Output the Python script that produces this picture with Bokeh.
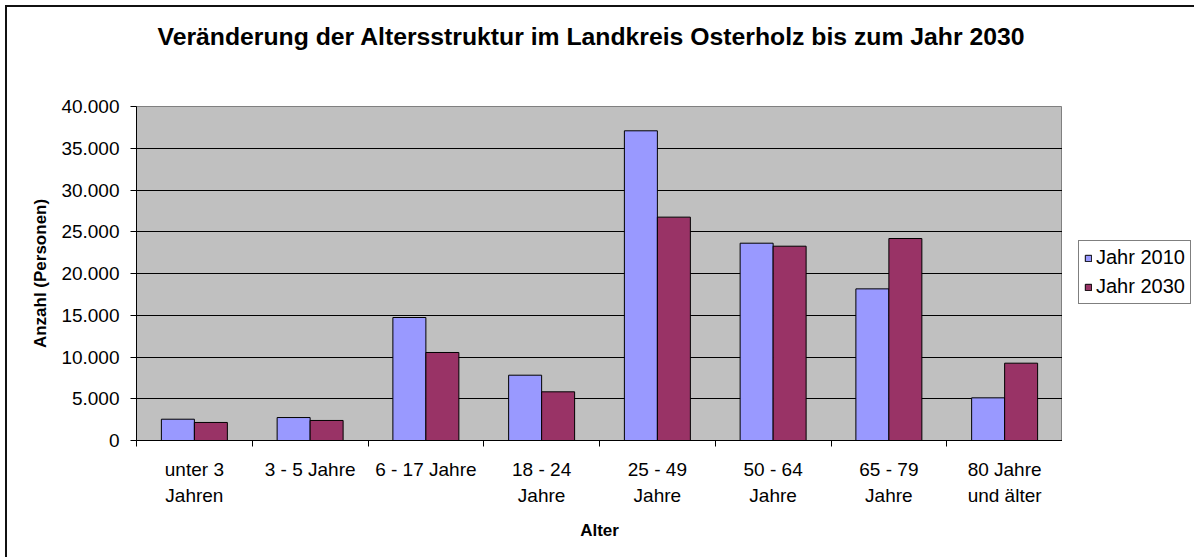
from bokeh.plotting import figure
from bokeh.layouts import row
from bokeh.models import ColumnDataSource, FixedTicker, Range1d, Title
from bokeh.transform import dodge
from bokeh.embed import file_html
from bokeh.resources import INLINE

# ---- data ----
categories = ["unter 3\nJahren", "3 - 5 Jahre", "6 - 17 Jahre", "18 - 24\nJahre",
              "25 - 49\nJahre", "50 - 64\nJahre", "65 - 79\nJahre", "80 Jahre\nund älter"]
jahr_2010 = [2550, 2750, 14730, 7820, 37090, 23630, 18160, 5110]
jahr_2030 = [2160, 2400, 10540, 5830, 26750, 23270, 24190, 9260]
series_names = ["Jahr 2010", "Jahr 2030"]
series_colors = ["#9999FF", "#993366"]
y_ticks = [0, 5000, 10000, 15000, 20000, 25000, 30000, 35000, 40000]
y_tick_labels = ["0", "5.000", "10.000", "15.000", "20.000", "25.000", "30.000", "35.000", "40.000"]
title_text = "Veränderung der Altersstruktur im Landkreis Osterholz bis zum Jahr 2030"
x_title = "Alter"
y_title = "Anzahl (Personen)"

FONT = "Liberation Sans"
W, H = 1194, 557
ML, MT, FW, FH = 136, 106, 926, 334
WL = W - ML - FW  # width of legend strip

pos = list(range(1, len(categories) + 1))
src = ColumnDataSource(dict(x=pos, a=jahr_2010, b=jahr_2030))

p = figure(width=ML + FW, height=H, output_backend="svg", toolbar_location=None,
           x_range=Range1d(0.5, len(categories) + 0.5), y_range=Range1d(0, 40000),
           min_border_left=ML, min_border_top=MT, min_border_right=0,
           min_border_bottom=H - MT - FH)
p.background_fill_color = "#C0C0C0"
p.border_fill_color = None
p.outline_line_color = "#808080"
p.outline_line_width = 1

bw = 0.285
p.vbar(x=dodge("x", -bw / 2, range=p.x_range), top="a", width=bw, source=src,
       fill_color=series_colors[0], line_color="black", line_width=1)
p.vbar(x=dodge("x", bw / 2, range=p.x_range), top="b", width=bw, source=src,
       fill_color=series_colors[1], line_color="black", line_width=1)

# grid
p.xgrid.visible = False
p.ygrid.ticker = FixedTicker(ticks=y_ticks)
p.ygrid.grid_line_color = "black"
p.ygrid.grid_line_width = 1
p.ygrid.grid_line_alpha = 1

# y axis
ya = p.yaxis[0]
ya.ticker = FixedTicker(ticks=y_ticks)
ya.major_label_overrides = {t: l for t, l in zip(y_ticks, y_tick_labels)}
ya.major_tick_out = 6
ya.major_tick_in = 0
ya.minor_tick_out = 0
ya.minor_tick_in = 0
ya.axis_line_color = "black"
ya.major_tick_line_color = "black"
ya.major_label_text_font = FONT
ya.major_label_text_font_size = "19px"
ya.major_label_text_color = "black"
ya.major_label_standoff = 11
ya.axis_label = y_title
ya.axis_label_text_font = FONT
ya.axis_label_text_font_size = "17px"
ya.axis_label_text_font_style = "bold"
ya.axis_label_text_color = "black"
ya.axis_label_standoff = 8

# x axis
xa = p.xaxis[0]
xa.ticker = FixedTicker(ticks=pos, minor_ticks=[i + 0.5 for i in range(len(categories) + 1)])
xa.major_label_overrides = {i: c for i, c in zip(pos, categories)}
xa.major_tick_out = 0
xa.major_tick_in = 0
xa.minor_tick_out = 6
xa.minor_tick_in = 0
xa.minor_tick_line_color = "black"
xa.axis_line_color = "black"
xa.major_label_text_font = FONT
xa.major_label_text_font_size = "19px"
xa.major_label_text_color = "black"
xa.major_label_text_line_height = 1.27
xa.major_label_standoff = 12
xa.axis_label = x_title
xa.axis_label_text_font = FONT
xa.axis_label_text_font_size = "17px"
xa.axis_label_text_font_style = "bold"
xa.axis_label_text_color = "black"
xa.axis_label_standoff = 12

# spacer between title and plot area (panel nearest the frame)
p.add_layout(Title(text=" ", text_font_size="1px", standoff=52), "above")

# title
p.title.text = title_text
p.title.align = "left"
p.title.offset = 21
p.title.vertical_align = "top"
p.title.text_font = FONT
p.title.text_font_size = "24.75px"
p.title.text_font_style = "bold"
p.title.text_color = "black"
p.title.standoff = 0

# legend strip: same series, drawn outside its visible range so only the legend shows
pl = figure(width=WL, height=H, output_backend="svg", toolbar_location=None,
            x_axis_location=None, y_axis_location=None, min_border=0,
            x_range=Range1d(-20, -19), y_range=Range1d(0, 40000))
pl.outline_line_color = None
pl.background_fill_color = None
pl.border_fill_color = None
pl.grid.visible = False
for name, col, field in zip(series_names, series_colors, ["a", "b"]):
    pl.vbar(x="x", top=field, width=bw, source=src, fill_color=col,
            line_color="black", line_width=1, legend_label=name)
lg = pl.legend[0]
lg.location = (16, 136)
lg.border_line_color = "black"
lg.border_line_width = 1
lg.background_fill_color = "white"
lg.background_fill_alpha = 1
lg.label_text_font = FONT
lg.label_text_font_size = "20px"
lg.label_text_color = "black"
lg.glyph_width = 8
lg.glyph_height = 8
lg.label_standoff = 4
lg.spacing = 6
lg.padding = 5
lg.margin = 0

layout = row(p, pl, spacing=0)
layout.styles = {
    "background": "linear-gradient(#111,#111) 5px 5px / 2px 552px no-repeat, "
                  "linear-gradient(#111,#111) 5px 5px / 1189px 2px no-repeat, white"
}
open("out.html", "w").write(file_html(layout, INLINE))
